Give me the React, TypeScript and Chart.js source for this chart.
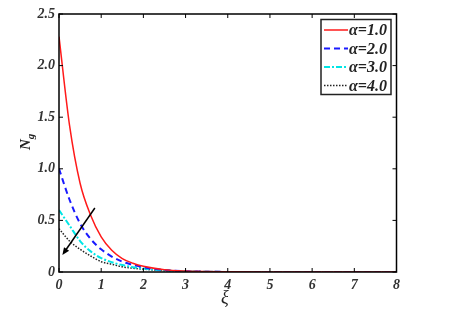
import React, { useEffect, useRef } from "react";
import { Chart, registerables } from "chart.js";

Chart.register(...registerables);

const xs = [0, 0.25, 0.5, 0.75, 1, 1.25, 1.5, 1.75, 2, 2.5, 3, 3.5, 4, 5, 6, 7, 8];
const alpha1 = [2.28, 1.42, 0.86, 0.55, 0.34, 0.21, 0.13, 0.085, 0.055, 0.022, 0.009, 0.004, 0.002, 0, 0, 0, 0];
const alpha2 = [1.0, 0.7, 0.47, 0.32, 0.22, 0.15, 0.1, 0.07, 0.045, 0.02, 0.008, 0.003, 0.001, 0, 0, 0, 0];
const alpha3 = [0.6, 0.45, 0.3, 0.2, 0.135, 0.095, 0.067, 0.047, 0.033, 0.015, 0.006, 0.002, 0.001, 0, 0, 0, 0];
const alpha4 = [0.42, 0.3, 0.22, 0.155, 0.1, 0.075, 0.05, 0.037, 0.027, 0.013, 0.006, 0.003, 0.001, 0, 0, 0, 0];
const seriesLabels = ["α=1.0", "α=2.0", "α=3.0", "α=4.0"];
const xTicks = [0, 1, 2, 3, 4, 5, 6, 7, 8];
const yTicks = [0, 0.5, 1, 1.5, 2, 2.5];
const arrowFrom = { x: 0.85, y: 0.62 };
const arrowTo = { x: 0.08, y: 0.165 };

const FONT = "'Liberation Serif', 'DejaVu Serif', serif";

const styles = [
  { color: "#ff1a1a", dash: [] as number[], width: 1.5 },
  { color: "#1a1aff", dash: [6, 4], width: 2 },
  { color: "#00e5e5", dash: [6, 2, 2, 2], width: 2 },
  { color: "#222222", dash: [1.5, 1.5], width: 1.5 },
];

const toPts = (ys: number[]) => xs.map((x, i) => ({ x, y: ys[i] }));

const decorPlugin = {
  id: "decor",
  afterDraw(chart: any) {
    const ctx = chart.ctx;
    const { left, right, top, bottom } = chart.chartArea;
    const xs_ = chart.scales.x;
    const ys_ = chart.scales.y;
    ctx.save();
    ctx.strokeStyle = "#000";
    ctx.lineWidth = 1.5;
    ctx.setLineDash([]);
    ctx.strokeRect(left, top, right - left, bottom - top);
    ctx.lineWidth = 1;
    ctx.beginPath();
    xTicks.forEach((v) => {
      const px = xs_.getPixelForValue(v);
      ctx.moveTo(px, bottom);
      ctx.lineTo(px, bottom - 4);
      ctx.moveTo(px, top);
      ctx.lineTo(px, top + 4);
    });
    yTicks.forEach((v) => {
      const py = ys_.getPixelForValue(v);
      ctx.moveTo(left, py);
      ctx.lineTo(left + 4, py);
      ctx.moveTo(right, py);
      ctx.lineTo(right - 4, py);
    });
    ctx.stroke();

    ctx.fillStyle = "#222";
    ctx.font = `italic 18px ${FONT}`;
    ctx.textAlign = "center";
    ctx.textBaseline = "middle";
    ctx.fillText("ξ", (left + right) / 2 - 3, 298);
    ctx.save();
    ctx.translate(26, 140);
    ctx.rotate(-Math.PI / 2);
    ctx.font = `bold italic 15px ${FONT}`;
    ctx.textAlign = "left";
    ctx.textBaseline = "alphabetic";
    ctx.fillText("N", -10, 4);
    const w = ctx.measureText("N").width;
    ctx.font = `bold italic 11px ${FONT}`;
    ctx.fillText("g", -10 + w, 8);
    ctx.restore();

    const x1 = xs_.getPixelForValue(arrowFrom.x);
    const y1 = ys_.getPixelForValue(arrowFrom.y);
    const x2 = xs_.getPixelForValue(arrowTo.x);
    const y2 = ys_.getPixelForValue(arrowTo.y);
    const ang = Math.atan2(y2 - y1, x2 - x1);
    const hl = 8;
    ctx.strokeStyle = "#000";
    ctx.fillStyle = "#000";
    ctx.lineWidth = 1.5;
    ctx.beginPath();
    ctx.moveTo(x1, y1);
    ctx.lineTo(x2 - Math.cos(ang) * hl * 0.6, y2 - Math.sin(ang) * hl * 0.6);
    ctx.stroke();
    ctx.beginPath();
    ctx.moveTo(x2, y2);
    ctx.lineTo(x2 - hl * Math.cos(ang - 0.4), y2 - hl * Math.sin(ang - 0.4));
    ctx.lineTo(x2 - hl * Math.cos(ang + 0.4), y2 - hl * Math.sin(ang + 0.4));
    ctx.closePath();
    ctx.fill();

    const lx = 321, ly = 19.5, lw = 70, lh = 75;
    ctx.fillStyle = "#fff";
    ctx.fillRect(lx, ly, lw, lh);
    ctx.strokeStyle = "#222";
    ctx.lineWidth = 1.5;
    ctx.strokeRect(lx, ly, lw, lh);
    seriesLabels.forEach((lab, i) => {
      const yy = ly + 10.5 + i * 18.5;
      const st = styles[i];
      ctx.strokeStyle = st.color;
      ctx.lineWidth = st.width;
      ctx.setLineDash(st.dash);
      ctx.beginPath();
      ctx.moveTo(lx + 3, yy);
      ctx.lineTo(lx + 27, yy);
      ctx.stroke();
      ctx.setLineDash([]);
      ctx.fillStyle = "#222";
      ctx.font = `bold italic 16px ${FONT}`;
      ctx.textAlign = "left";
      ctx.textBaseline = "middle";
      ctx.fillText(lab, lx + 28, yy + 1);
    });
    ctx.restore();
  },
};

export default function App() {
  const ref = useRef<HTMLCanvasElement | null>(null);
  useEffect(() => {
    if (!ref.current) return;
    const data = [alpha1, alpha2, alpha3, alpha4];
    const tickFont = { family: FONT, size: 14, style: "italic" as const, weight: "bold" as const };
    const chart = new Chart(ref.current, {
      type: "line",
      data: {
        datasets: data.map((d, i) => ({
          label: seriesLabels[i],
          data: toPts(d),
          borderColor: styles[i].color,
          borderWidth: styles[i].width,
          borderDash: styles[i].dash,
          pointRadius: 0,
          fill: false,
          cubicInterpolationMode: "monotone" as const,
        })),
      },
      plugins: [decorPlugin],
      options: {
        animation: false,
        responsive: false,
        maintainAspectRatio: false,
        layout: { padding: { left: 0, top: 14, right: 53.5, bottom: 0 } },
        plugins: { legend: { display: false }, tooltip: { enabled: false } },
        scales: {
          x: {
            type: "linear",
            min: 0,
            max: 8,
            afterFit: (s: any) => { s.height = 45; },
            afterBuildTicks: (s: any) => { s.ticks = xTicks.map((v) => ({ value: v })); },
            grid: { display: false, drawTicks: false },
            border: { display: false },
            ticks: { color: "#333", font: tickFont, padding: 5, maxRotation: 0 },
          },
          y: {
            type: "linear",
            min: 0,
            max: 2.5,
            afterFit: (s: any) => { s.width = 59; },
            afterBuildTicks: (s: any) => { s.ticks = yTicks.map((v) => ({ value: v })); },
            grid: { display: false, drawTicks: false },
            border: { display: false },
            ticks: { color: "#333", font: tickFont, padding: 4 },
          },
        },
      },
    });
    return () => chart.destroy();
  }, []);
  return (
    <div style={{ position: "fixed", left: 0, top: 0, width: 450, height: 317, background: "#fff" }}>
      <canvas ref={ref} width={450} height={317} style={{ width: 450, height: 317 }} />
    </div>
  );
}
